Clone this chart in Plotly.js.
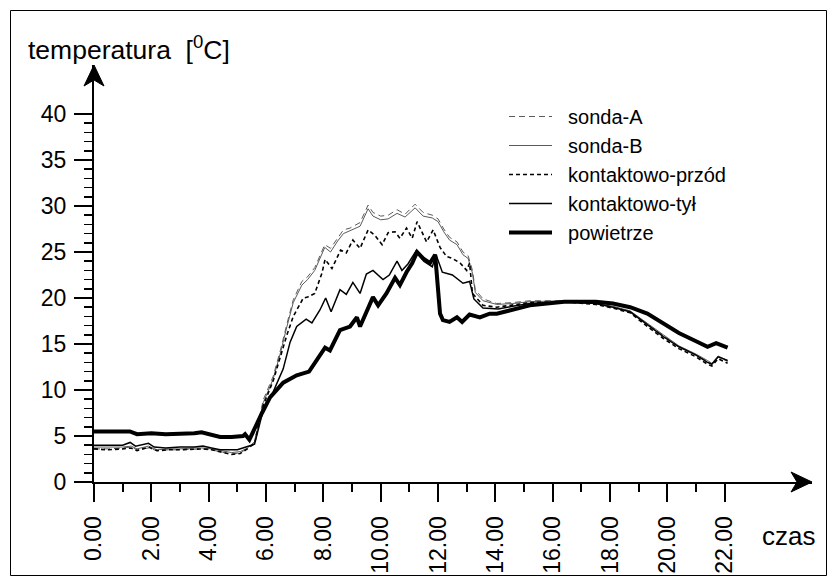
<!DOCTYPE html>
<html>
<head>
<meta charset="utf-8">
<script src="https://cdn.plot.ly/plotly-3.0.1.min.js"></script>
<style>html,body{margin:0;padding:0;background:#fff;}#chart{width:836px;height:585px;}</style>
</head>
<body>
<div id="chart"></div>
<script>
// ---- data (time in hours, temperature in deg C) ----
var seriesNames = ['sonda-A', 'sonda-B', 'kontaktowo-przód', 'kontaktowo-tył', 'powietrze'];

var tSonda = [0,0.5,1.0,1.3,1.5,1.9,2.2,2.6,3.0,3.5,3.8,4.1,4.4,4.8,5.1,5.35,5.6,5.9,6.25,6.5,6.73,6.95,7.25,7.45,7.7,7.95,8.05,8.25,8.5,8.7,8.93,9.28,9.56,9.73,10.0,10.26,10.57,10.85,11.2,11.48,11.8,12.0,12.2,12.4,12.66,12.87,13.05,13.2,13.3,13.57,14.05,14.6,15.2,16.4,17.5,18.1,18.7,19.3,19.86,20.4,21.0,21.4,21.55,21.77,22.1];
var sondaA = [3.6,3.6,3.7,3.8,3.5,3.7,3.4,3.5,3.5,3.6,3.6,3.5,3.3,3.0,3.2,3.6,4.4,8.9,11.5,14.3,17.2,19.8,21.8,22.3,23.3,25.1,25.8,25.4,26.5,27.4,27.6,28.2,30.1,29.3,28.9,29.0,29.6,29.1,30.2,29.3,29.0,28.6,27.5,26.6,26.1,25.0,24.6,23.0,20.9,19.9,19.4,19.5,19.7,19.7,19.4,19.0,18.5,17.2,15.9,14.7,13.8,13.1,12.8,13.6,13.1];
var sondaB = [3.8,3.8,3.8,3.9,3.6,3.9,3.5,3.6,3.6,3.7,3.7,3.6,3.4,3.2,3.3,3.7,4.3,8.6,11.2,14.0,16.9,19.5,21.4,22.0,23.0,24.8,25.5,25.0,26.2,27.0,27.3,27.8,29.7,28.9,28.5,28.6,29.2,28.8,29.8,28.9,28.7,28.3,27.2,26.3,25.8,24.7,24.3,22.7,20.6,19.7,19.3,19.4,19.6,19.7,19.4,19.1,18.6,17.3,16.0,14.8,13.9,13.2,12.9,13.7,13.2];

var tPrzod = [0,0.5,1.0,1.3,1.5,1.9,2.2,2.6,3.0,3.5,3.8,4.1,4.4,4.8,5.1,5.35,5.6,5.9,6.25,6.5,6.73,6.95,7.3,7.45,7.7,7.95,8.06,8.3,8.6,8.8,9.03,9.28,9.56,9.8,10.05,10.26,10.5,10.67,10.9,11.1,11.27,11.6,11.83,12.07,12.3,12.5,12.77,13.0,13.1,13.2,13.57,14.05,14.6,15.2,16.4,17.5,18.1,18.7,19.3,19.86,20.4,21.0,21.4,21.55,21.77,22.1];
var przod = [3.6,3.5,3.6,3.7,3.4,3.8,3.4,3.5,3.5,3.6,3.6,3.5,3.3,3.0,3.1,3.6,4.2,8.3,11.0,13.6,16.0,18.0,20.0,20.1,20.5,22.7,24.2,23.2,25.2,24.9,26.3,25.4,27.4,26.8,25.8,27.1,27.2,26.5,27.6,26.5,28.3,26.1,27.4,25.5,24.5,24.3,23.8,23.0,23.8,20.5,19.2,19.0,19.2,19.5,19.6,19.3,18.9,18.4,16.9,15.6,14.5,13.6,12.8,12.6,13.4,12.9];

var tTyl = [0,0.5,1.0,1.26,1.45,1.9,2.1,2.5,3.0,3.5,3.8,4.1,4.4,4.7,5.0,5.3,5.6,5.9,6.25,6.6,6.84,7.07,7.4,7.6,7.88,8.08,8.27,8.58,8.8,9.03,9.28,9.5,9.73,10.08,10.3,10.57,10.74,10.95,11.23,11.5,11.8,11.93,12.15,12.5,12.87,13.1,13.25,13.57,14.1,14.6,15.2,16.4,17.5,18.1,18.7,19.3,19.86,20.4,21.0,21.4,21.55,21.77,22.1];
var tyl = [4.0,4.0,4.0,4.3,3.9,4.2,3.8,3.7,3.8,3.8,3.9,3.7,3.5,3.5,3.5,3.8,4.1,7.8,9.8,12.3,15.2,16.9,17.7,17.3,18.7,20.0,18.5,20.9,20.4,21.7,20.5,22.6,23.0,22.0,22.5,24.0,23.0,23.7,25.1,24.0,23.4,24.7,22.8,22.5,21.6,21.8,19.9,18.9,18.8,19.1,19.4,19.6,19.4,19.0,18.5,17.1,15.8,14.7,13.8,13.0,12.8,13.6,13.2];

var tPow = [0,0.5,1.0,1.25,1.5,2.0,2.5,3.0,3.5,3.75,4.0,4.4,4.8,5.2,5.27,5.42,5.86,6.14,6.6,7.07,7.5,7.77,8.06,8.23,8.58,8.93,9.17,9.28,9.52,9.73,9.91,10.2,10.5,10.67,10.9,11.1,11.27,11.48,11.72,11.9,12.07,12.17,12.4,12.66,12.84,13.1,13.46,13.8,14.05,14.6,15.2,16.4,17.5,18.1,18.7,19.3,19.86,20.4,21.0,21.4,21.7,22.1];
var powietrze = [5.5,5.5,5.5,5.5,5.2,5.3,5.2,5.2,5.3,5.4,5.2,4.9,4.9,5.0,5.2,4.6,7.5,9.2,10.8,11.6,12.0,13.3,14.6,14.3,16.5,16.9,17.9,16.9,18.7,20.1,19.2,20.5,22.2,21.4,22.8,23.8,25.0,24.3,23.8,24.7,18.3,17.6,17.4,17.9,17.4,18.2,17.9,18.3,18.3,18.7,19.2,19.6,19.6,19.4,19.0,18.3,17.2,16.2,15.3,14.7,15.1,14.6];

var xTickVals = [0,2,4,6,8,10,12,14,16,18,20,22];
var xTickText = ['0.00','2.00','4.00','6.00','8.00','10.00','12.00','14.00','16.00','18.00','20.00','22.00'];
var xMinorVals = [1,3,5,7,9,11,13,15,17,19,21];
var yTickVals = [0,5,10,15,20,25,30,35,40];
var yTickText = ['0','5','10','15','20','25','30','35','40'];
var yMinorVals = [];
for (var i = 1; i < 40; i++) { if (i % 5 !== 0) yMinorVals.push(i); }

var FONT = 'Arial, "Liberation Sans", sans-serif';
var PAD = '\u00a0\u00a0';

var traces = [
  {x: tSonda, y: sondaA, name: PAD + seriesNames[0], mode: 'lines', line: {color: '#5a5a5a', width: 1, dash: '6px,4px'}},
  {x: tSonda, y: sondaB, name: PAD + seriesNames[1], mode: 'lines', line: {color: '#5a5a5a', width: 1}},
  {x: tPrzod, y: przod, name: PAD + seriesNames[2], mode: 'lines', line: {color: '#000', width: 1.6, dash: '4px,3px'}},
  {x: tTyl, y: tyl, name: PAD + seriesNames[3], mode: 'lines', line: {color: '#000', width: 1.5}},
  {x: tPow, y: powietrze, name: PAD + seriesNames[4], mode: 'lines', line: {color: '#000', width: 4}}
];

var L = 94, R = 812, T = 65, B = 482;
var W = R - L, H = B - T;
var px = function (x) { return (x - L) / W; };
var py = function (y) { return (B - y) / H; };
var XMAX = (R - L) / 28.67, YMAX = (B - T) / 9.2;

var layout = {
  width: 836, height: 585,
  margin: {l: L, r: 836 - R, t: T, b: 585 - B},
  paper_bgcolor: '#fff', plot_bgcolor: '#fff',
  font: {family: FONT, color: '#000'},
  showlegend: true,
  legend: {
    x: px(504), y: py(97), xanchor: 'left', yanchor: 'top',
    font: {size: 20, family: FONT, color: '#000'},
    bgcolor: 'rgba(0,0,0,0)', borderwidth: 0, itemwidth: 43
  },
  xaxis: {
    range: [0, XMAX], showline: true, linewidth: 2, linecolor: '#000',
    showgrid: false, zeroline: false,
    tickmode: 'array', tickvals: xTickVals, ticktext: xTickText,
    ticks: 'outside', ticklen: 18, tickwidth: 2, tickcolor: '#000',
    tickangle: -90, tickfont: {size: 23, family: FONT, color: '#000'},
    ticklabelstandoff: 5,
    minor: {tickmode: 'array', tickvals: xMinorVals, ticks: 'outside', ticklen: 8, tickwidth: 2, tickcolor: '#000', showgrid: false},
    fixedrange: true
  },
  yaxis: {
    range: [0, YMAX], showline: true, linewidth: 2, linecolor: '#000',
    showgrid: false, zeroline: false,
    tickmode: 'array', tickvals: yTickVals, ticktext: yTickText,
    ticks: 'outside', ticklen: 18, tickwidth: 1.5, tickcolor: '#000',
    tickfont: {size: 23, family: FONT, color: '#000'},
    ticklabelstandoff: 3,
    minor: {tickmode: 'array', tickvals: yMinorVals, ticks: 'outside', ticklen: 8, tickwidth: 1.5, tickcolor: '#000', showgrid: false},
    fixedrange: true
  },
  shapes: [
    {type: 'rect', xref: 'paper', yref: 'paper', x0: px(10.5), x1: px(826.5), y0: py(10.5), y1: py(575.5),
     line: {color: '#000', width: 1}, fillcolor: 'rgba(0,0,0,0)', layer: 'above'},
    {type: 'path', xref: 'paper', yref: 'paper', xsizemode: 'pixel', ysizemode: 'pixel', xanchor: 1, yanchor: 0,
     path: 'M0,0 L-21,10 L-15,0 L-21,-10 Z', fillcolor: '#000', line: {color: '#000', width: 1}},
    {type: 'path', xref: 'paper', yref: 'paper', xsizemode: 'pixel', ysizemode: 'pixel', xanchor: 0, yanchor: 1,
     path: 'M0,0 L-10,-21 L0,-15 L10,-21 Z', fillcolor: '#000', line: {color: '#000', width: 1}}
  ],
  annotations: [
    {xref: 'paper', yref: 'paper', x: px(26), y: py(48), xanchor: 'left', yanchor: 'middle', showarrow: false,
     text: 'temperatura\u00a0\u00a0[<sup>0</sup>C]', font: {size: 26.5, family: FONT, color: '#000'}},
    {xref: 'paper', yref: 'paper', x: px(760), y: py(536), xanchor: 'left', yanchor: 'middle', showarrow: false,
     text: 'czas', font: {size: 26, family: FONT, color: '#000'}}
  ]
};

Plotly.newPlot('chart', traces, layout, {staticPlot: true, displayModeBar: false});
</script>
</body>
</html>
